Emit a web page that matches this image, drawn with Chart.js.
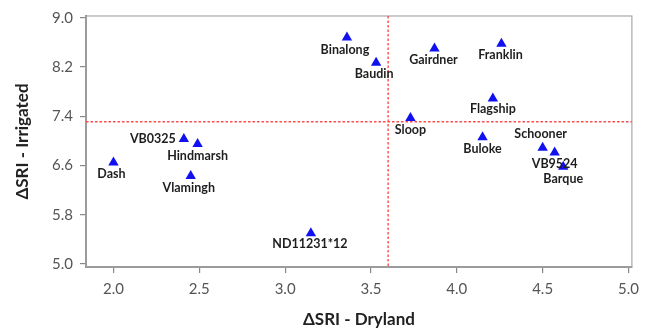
<!DOCTYPE html>
<html>
<head>
<meta charset="utf-8">
<script src="https://cdn.jsdelivr.net/npm/chart.js@4"></script>
<style>
  html, body { margin: 0; padding: 0; background: #fff; }
  #wrap { width: 646px; height: 330px; }
</style>
</head>
<body>
<div id="wrap"><canvas id="chart"></canvas></div>
<script>
const names = ['Binalong', 'Baudin', 'Gairdner', 'Franklin', 'Flagship', 'Sloop', 'Buloke',
  'Schooner', 'VB9524', 'Barque', 'VB0325', 'Hindmarsh', 'Dash', 'Vlamingh', 'ND11231*12'];
const dryland = [3.36, 3.53, 3.87, 4.26, 4.21, 3.73, 4.15, 4.50, 4.57, 4.62, 2.41, 2.49, 2.00, 2.45, 3.15];
const irrigated = [8.68, 8.27, 8.50, 8.58, 7.69, 7.37, 7.06, 6.89, 6.81, 6.58, 7.03, 6.95, 6.65, 6.43, 5.50];
const xTicks = [2.0, 2.5, 3.0, 3.5, 4.0, 4.5, 5.0];
const yTicks = [5.0, 5.8, 6.6, 7.4, 8.2, 9.0];
const refDryland = 3.6;
const refIrrigated = 7.31;

// where each name sits relative to its marker: [dx, dy, align]
const labelPlace = [
  [-2, 12, 'center'], [-2, 11, 'center'], [-1, 11, 'center'], [-1, 11, 'center'],
  [0, 11, 'center'], [0, 12, 'center'], [0, 12, 'center'], [-2, -14, 'center'],
  [0, 11, 'center'], [0, 12, 'center'], [-8, 0, 'right'], [0, 12, 'center'],
  [-2, 12, 'center'], [-2, 12, 'center'], [-1, 11, 'center'],
];

const points = dryland.map((x, i) => ({ x, y: irrigated[i] }));

const frame = {
  id: 'frame',
  beforeDatasetsDraw(chart) {
    const { ctx, chartArea: a, scales } = chart;
    ctx.save();
    ctx.strokeStyle = '#a8a8a8';
    ctx.lineWidth = 1.2;
    ctx.strokeRect(a.left, a.top, a.right - a.left, a.bottom - a.top);
    // reference lines
    ctx.strokeStyle = '#ff4a4a';
    ctx.lineWidth = 1.4;
    ctx.setLineDash([2.5, 2]);
    const rx = scales.x.getPixelForValue(refDryland);
    const ry = scales.y.getPixelForValue(refIrrigated);
    ctx.beginPath();
    ctx.moveTo(rx, a.top); ctx.lineTo(rx, a.bottom);
    ctx.moveTo(a.left, ry); ctx.lineTo(a.right, ry);
    ctx.stroke();
    ctx.restore();
  },
  afterDatasetsDraw(chart) {
    const { ctx } = chart;
    const meta = chart.getDatasetMeta(0);
    ctx.save();
    ctx.font = 'bold 12.5px Lato';
    ctx.fillStyle = '#1e1e1e';
    ctx.textBaseline = 'middle';
    meta.data.forEach((pt, i) => {
      const [dx, dy, align] = labelPlace[i];
      ctx.textAlign = align;
      ctx.fillText(names[i], pt.x + dx, pt.y + dy);
    });
    ctx.restore();
  },
};

new Chart(document.getElementById('chart'), {
  type: 'scatter',
  data: {
    datasets: [{
      data: points,
      pointStyle: 'triangle',
      radius: 6,
      backgroundColor: '#1010f0',
      borderColor: '#1010f0',
      borderWidth: 0,
    }],
  },
  options: {
    responsive: true,
    maintainAspectRatio: false,
    animation: false,
    layout: { padding: { top: 14, right: 10, left: 0, bottom: 0 } },
    plugins: { legend: { display: false }, tooltip: { enabled: false } },
    scales: {
      x: {
        min: 1.84,
        max: 5.02,
        afterBuildTicks: (s) => { s.ticks = xTicks.map(v => ({ value: v })); },
        afterFit: (s) => { s.height = 63; },
        ticks: {
          color: '#555',
          font: { family: 'Lato', size: 15 },
          padding: 7,
          callback: (v) => v.toFixed(1),
        },
        grid: { display: true, drawOnChartArea: false, tickLength: 6, color: '#888', lineWidth: 1.2 },
        border: { display: true, color: '#888', width: 2 },
        title: {
          display: true,
          text: 'ΔSRI - Dryland',
          color: '#222',
          font: { family: 'Lato', size: 17, weight: 'bold' },
          padding: { top: 2, bottom: 0 },
        },
      },
      y: {
        min: 4.95,
        max: 9.03,
        afterBuildTicks: (s) => { s.ticks = yTicks.map(v => ({ value: v })); },
        afterFit: (s) => { s.width = 86; },
        ticks: {
          color: '#555',
          font: { family: 'Lato', size: 15 },
          padding: 7,
          callback: (v) => v.toFixed(1),
        },
        grid: { display: true, drawOnChartArea: false, tickLength: 6, color: '#888', lineWidth: 1.2 },
        border: { display: true, color: '#888', width: 2 },
        title: {
          display: true,
          text: 'ΔSRI - Irrigated',
          color: '#222',
          font: { family: 'Lato', size: 17, weight: 'bold' },
          padding: { top: 12, bottom: 4 },
        },
      },
    },
  },
  plugins: [frame],
});
</script>
</body>
</html>
